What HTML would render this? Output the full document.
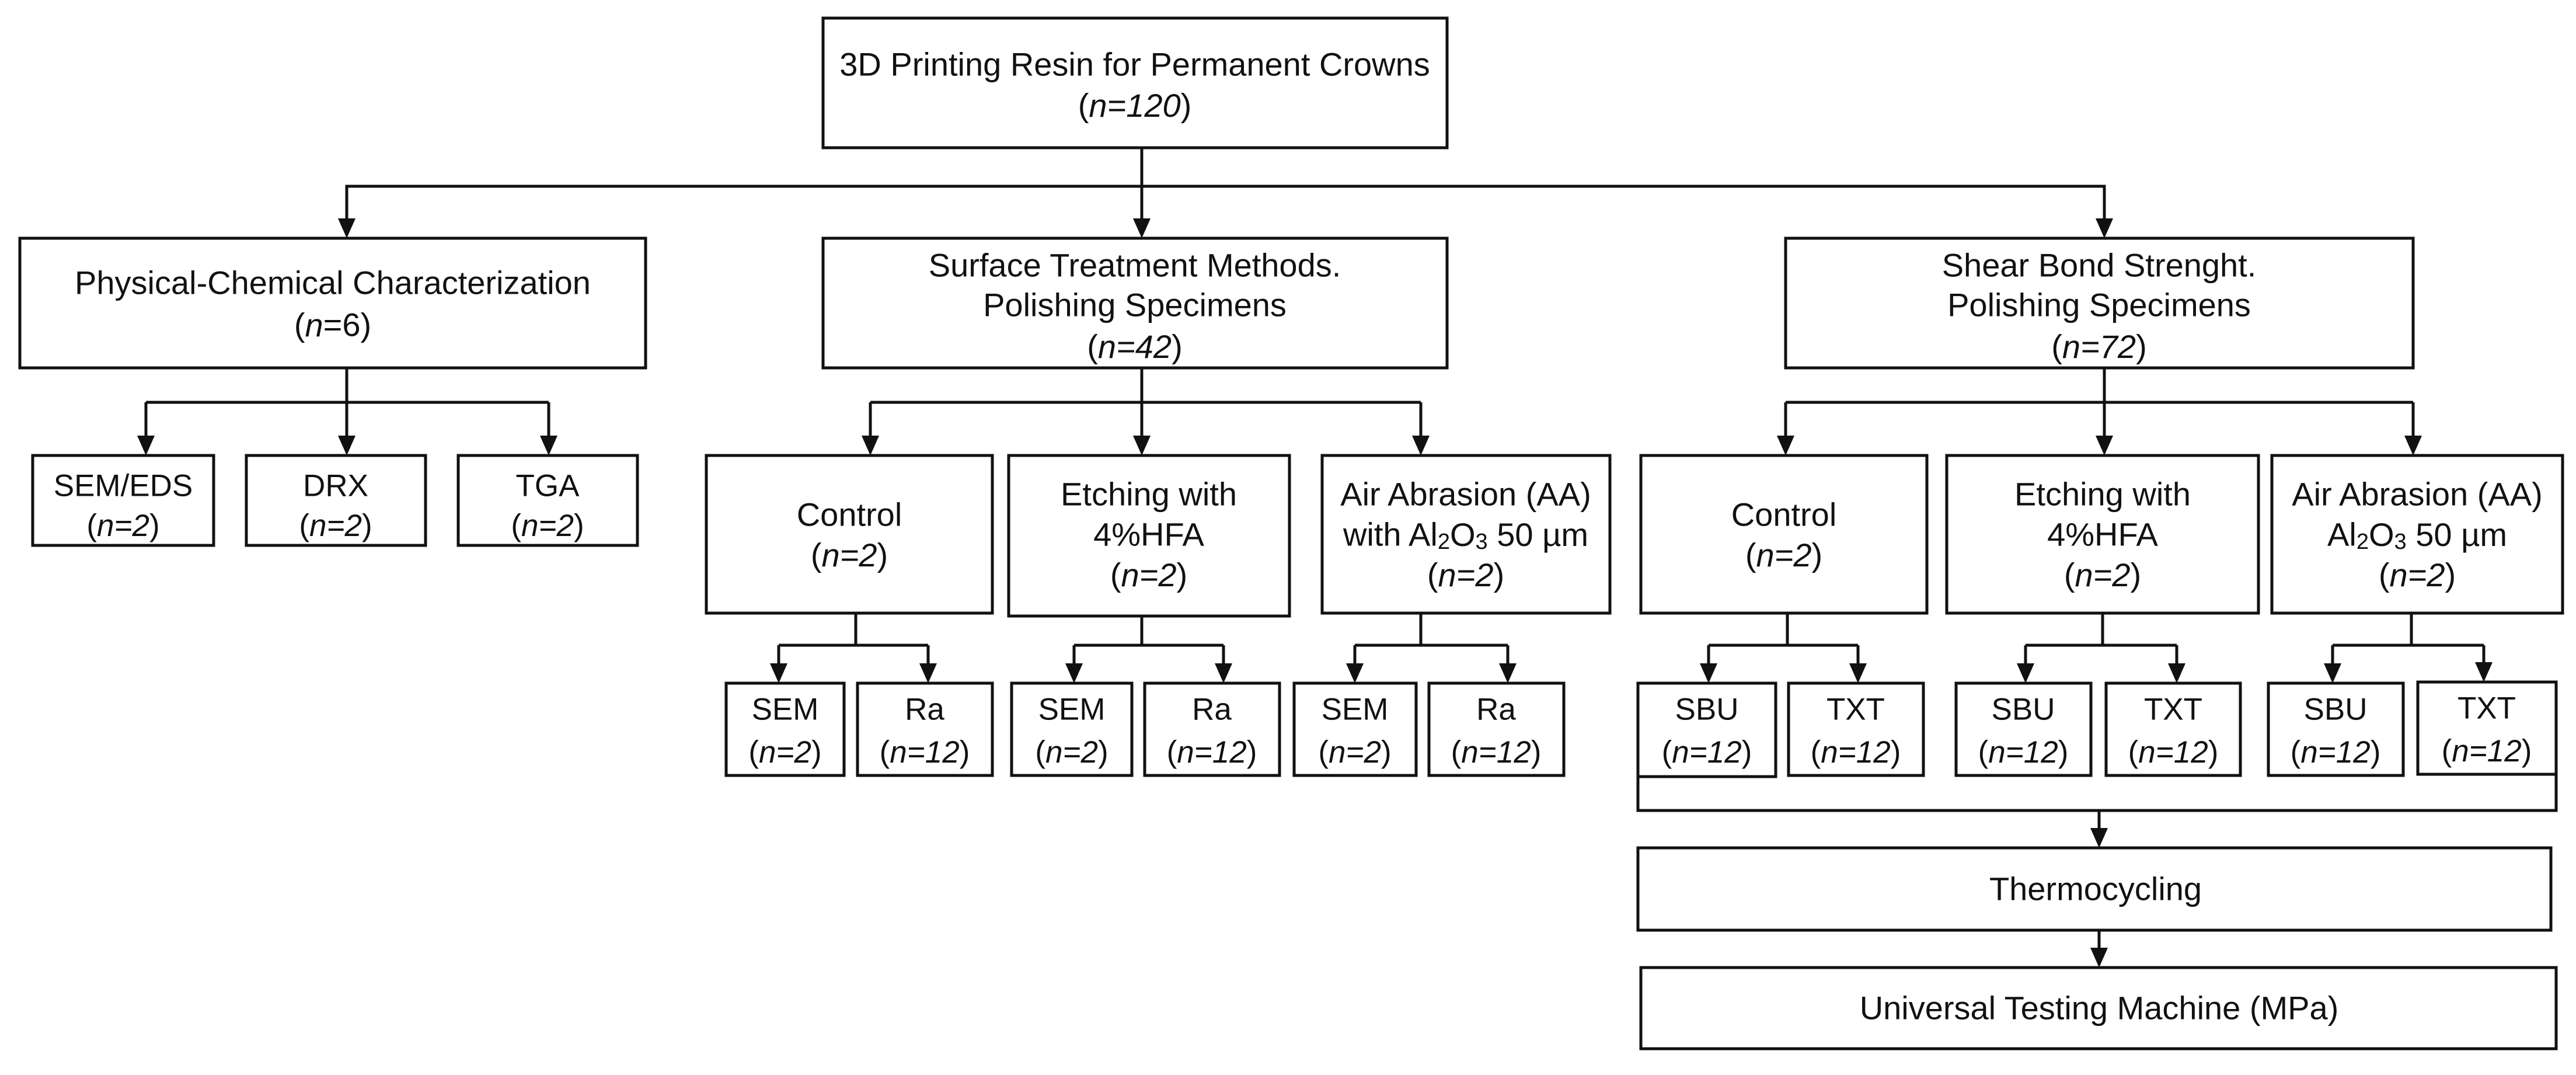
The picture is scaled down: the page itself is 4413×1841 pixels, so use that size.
<!DOCTYPE html>
<html><head><meta charset="utf-8"><style>
html,body{margin:0;padding:0;background:#fff;}
svg{display:block;}
text{font-family:"Liberation Sans",sans-serif;font-size:56px;fill:#111;text-anchor:middle;dominant-baseline:central;}
text.s{font-size:53px;}
.i{font-style:italic;}
</style></head><body>
<svg width="4413" height="1841" viewBox="0 0 4413 1841" xmlns="http://www.w3.org/2000/svg">
<g fill="none" stroke="#111" stroke-width="5">
<rect x="1410" y="31" width="1069" height="222"/>
<rect x="34" y="408" width="1072" height="222"/>
<rect x="1410" y="408" width="1069" height="222"/>
<rect x="3059" y="408" width="1075" height="222"/>
<rect x="56" y="780" width="310" height="154"/>
<rect x="422" y="780" width="307" height="154"/>
<rect x="785" y="780" width="307" height="154"/>
<rect x="1210" y="780" width="490" height="270"/>
<rect x="1728" y="780" width="481" height="275"/>
<rect x="2265" y="780" width="493" height="270"/>
<rect x="1244" y="1170" width="202" height="158"/>
<rect x="1469" y="1170" width="231" height="158"/>
<rect x="1733" y="1170" width="206" height="158"/>
<rect x="1961" y="1170" width="231" height="158"/>
<rect x="2217" y="1170" width="209" height="158"/>
<rect x="2448" y="1170" width="231" height="158"/>
<rect x="2811" y="780" width="490" height="270"/>
<rect x="3335" y="780" width="534" height="270"/>
<rect x="3892" y="780" width="498" height="270"/>
<rect x="2806" y="1170" width="236" height="160"/>
<rect x="3064" y="1170" width="231" height="158"/>
<rect x="3351" y="1170" width="231" height="158"/>
<rect x="3608" y="1170" width="230" height="158"/>
<rect x="3886" y="1170" width="231" height="158"/>
<rect x="4142" y="1168" width="237" height="158"/>
<rect x="2806" y="1452" width="1564" height="141"/>
<rect x="2811" y="1657" width="1568" height="139"/>
<path d="M1956 253V390M594 390V319H3605V390"/>
<path d="M594 630V689M250 689H940M250 689V762M594 689V762M940 689V762"/>
<path d="M1956 630V762M1491 689H2434M1491 689V762M2434 689V762"/>
<path d="M3605 630V762M3059 689H4134M3059 689V762M4134 689V762"/>
<path d="M1466 1050V1105M1334 1105H1590M1334 1105V1152M1590 1105V1152"/>
<path d="M1956 1055V1105M1840 1105H2096M1840 1105V1152M2096 1105V1152"/>
<path d="M2434 1050V1105M2321 1105H2583M2321 1105V1152M2583 1105V1152"/>
<path d="M3062 1050V1105M2927 1105H3183M2927 1105V1152M3183 1105V1152"/>
<path d="M3602 1050V1105M3470 1105H3729M3470 1105V1152M3729 1105V1152"/>
<path d="M4131 1050V1105M3996 1105H4255M3996 1105V1152M4255 1105V1152"/>
<path d="M2806 1330V1388H4379V1326"/>
<path d="M3596 1388V1434M3596 1593V1639"/>
</g>
<g fill="#111">
<polygon points="579,374 609,374 594,408"/>
<polygon points="1941,374 1971,374 1956,408"/>
<polygon points="3590,374 3620,374 3605,408"/>
<polygon points="235,746 265,746 250,780"/>
<polygon points="579,746 609,746 594,780"/>
<polygon points="925,746 955,746 940,780"/>
<polygon points="1476,746 1506,746 1491,780"/>
<polygon points="1941,746 1971,746 1956,780"/>
<polygon points="2419,746 2449,746 2434,780"/>
<polygon points="3044,746 3074,746 3059,780"/>
<polygon points="3590,746 3620,746 3605,780"/>
<polygon points="4119,746 4149,746 4134,780"/>
<polygon points="1319,1136 1349,1136 1334,1170"/>
<polygon points="1575,1136 1605,1136 1590,1170"/>
<polygon points="1825,1136 1855,1136 1840,1170"/>
<polygon points="2081,1136 2111,1136 2096,1170"/>
<polygon points="2306,1136 2336,1136 2321,1170"/>
<polygon points="2568,1136 2598,1136 2583,1170"/>
<polygon points="2912,1136 2942,1136 2927,1170"/>
<polygon points="3168,1136 3198,1136 3183,1170"/>
<polygon points="3455,1136 3485,1136 3470,1170"/>
<polygon points="3714,1136 3744,1136 3729,1170"/>
<polygon points="3981,1136 4011,1136 3996,1170"/>
<polygon points="4240,1134 4270,1134 4255,1168"/>
<polygon points="3581,1418 3611,1418 3596,1452"/>
<polygon points="3581,1623 3611,1623 3596,1657"/>
</g>
<text x="1944" y="110">3D Printing Resin for Permanent Crowns</text>
<text x="1944" y="180">(<tspan class="i">n=120</tspan>)</text>
<text x="570" y="484">Physical-Chemical Characterization</text>
<text x="570" y="556">(<tspan class="i">n</tspan>=6)</text>
<text x="1944" y="454">Surface Treatment Methods.</text>
<text x="1944" y="522">Polishing Specimens</text>
<text x="1944" y="593">(<tspan class="i">n=42</tspan>)</text>
<text x="3596" y="454">Shear Bond Strenght.</text>
<text x="3596" y="522">Polishing Specimens</text>
<text x="3596" y="593">(<tspan class="i">n=72</tspan>)</text>
<text class="s" x="211" y="832">SEM/EDS</text><text class="s" x="211" y="900">(<tspan class="i">n=2</tspan>)</text>
<text class="s" x="575" y="832">DRX</text><text class="s" x="575" y="900">(<tspan class="i">n=2</tspan>)</text>
<text class="s" x="938" y="832">TGA</text><text class="s" x="938" y="900">(<tspan class="i">n=2</tspan>)</text>
<text x="1455" y="881">Control</text><text x="1455" y="950">(<tspan class="i">n=2</tspan>)</text>
<text x="1968" y="846">Etching with</text><text x="1968" y="915">4%HFA</text><text x="1968" y="984">(<tspan class="i">n=2</tspan>)</text>
<text x="2511" y="846">Air Abrasion (AA)</text><text x="2511" y="915">with Al<tspan font-size="38" dy="13">2</tspan><tspan dy="-13">O</tspan><tspan font-size="38" dy="13">3</tspan><tspan dy="-13"> 50 µm</tspan></text><text x="2511" y="984">(<tspan class="i">n=2</tspan>)</text>
<text x="3056" y="881">Control</text><text x="3056" y="950">(<tspan class="i">n=2</tspan>)</text>
<text x="3602" y="846">Etching with</text><text x="3602" y="915">4%HFA</text><text x="3602" y="984">(<tspan class="i">n=2</tspan>)</text>
<text x="4141" y="846">Air Abrasion (AA)</text><text x="4141" y="915">Al<tspan font-size="38" dy="13">2</tspan><tspan dy="-13">O</tspan><tspan font-size="38" dy="13">3</tspan><tspan dy="-13"> 50 µm</tspan></text><text x="4141" y="984">(<tspan class="i">n=2</tspan>)</text>
<text class="s" x="1345" y="1215">SEM</text><text class="s" x="1345" y="1288">(<tspan class="i">n=2</tspan>)</text>
<text class="s" x="1584" y="1215">Ra</text><text class="s" x="1584" y="1288">(<tspan class="i">n=12</tspan>)</text>
<text class="s" x="1836" y="1215">SEM</text><text class="s" x="1836" y="1288">(<tspan class="i">n=2</tspan>)</text>
<text class="s" x="2076" y="1215">Ra</text><text class="s" x="2076" y="1288">(<tspan class="i">n=12</tspan>)</text>
<text class="s" x="2321" y="1215">SEM</text><text class="s" x="2321" y="1288">(<tspan class="i">n=2</tspan>)</text>
<text class="s" x="2563" y="1215">Ra</text><text class="s" x="2563" y="1288">(<tspan class="i">n=12</tspan>)</text>
<text class="s" x="2924" y="1215">SBU</text><text class="s" x="2924" y="1288">(<tspan class="i">n=12</tspan>)</text>
<text class="s" x="3179" y="1215">TXT</text><text class="s" x="3179" y="1288">(<tspan class="i">n=12</tspan>)</text>
<text class="s" x="3466" y="1215">SBU</text><text class="s" x="3466" y="1288">(<tspan class="i">n=12</tspan>)</text>
<text class="s" x="3723" y="1215">TXT</text><text class="s" x="3723" y="1288">(<tspan class="i">n=12</tspan>)</text>
<text class="s" x="4001" y="1215">SBU</text><text class="s" x="4001" y="1288">(<tspan class="i">n=12</tspan>)</text>
<text class="s" x="4260" y="1213">TXT</text><text class="s" x="4260" y="1286">(<tspan class="i">n=12</tspan>)</text>
<text x="3590" y="1522">Thermocycling</text>
<text x="3596" y="1726">Universal Testing Machine (MPa)</text>
</svg>
</body></html>
